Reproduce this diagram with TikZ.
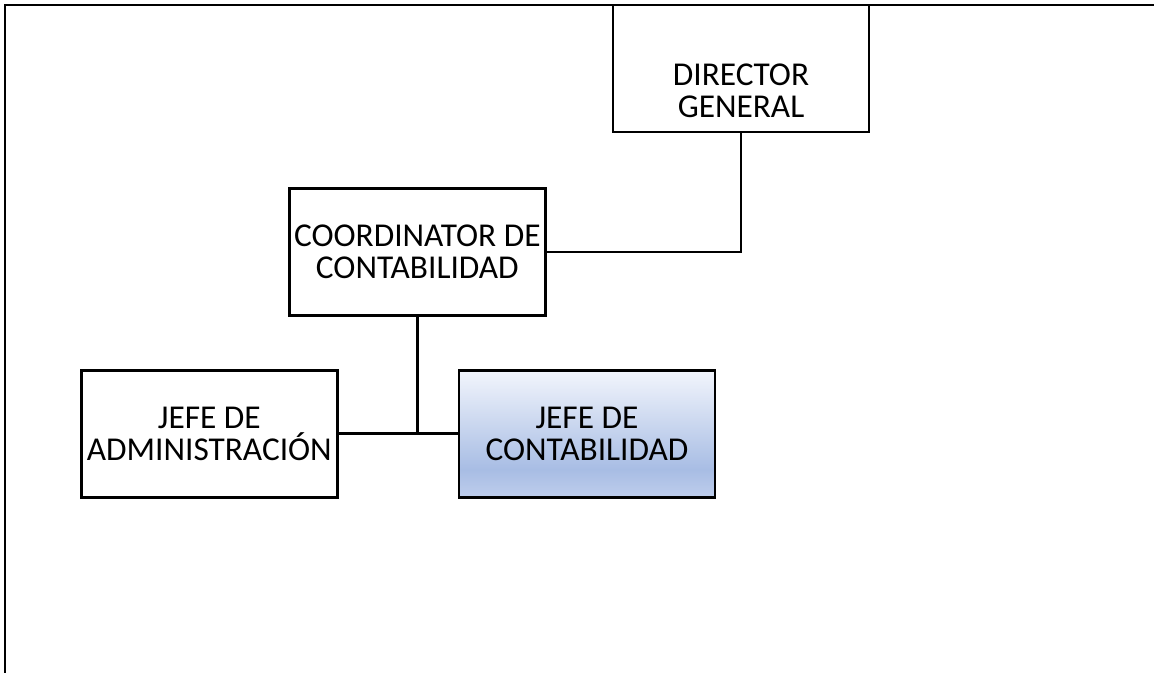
\documentclass[tikz,border=0pt]{standalone}
\usepackage{fontspec}
\setmainfont{Carlito}
\usepackage{xcolor}
\usetikzlibrary{positioning}
\definecolor{jcTop}{RGB}{242,245,252}
\definecolor{jcMid}{RGB}{168,189,228}
\definecolor{jcBot}{RGB}{190,205,236}
\pgfdeclareverticalshading{jcshade}{100bp}{%
  color(0bp)=(jcBot); color(25bp)=(jcBot); color(36bp)=(jcMid);
  color(75bp)=(jcTop); color(100bp)=(jcTop)}

\begin{document}
\begin{tikzpicture}[
  x=0.75pt, y=-0.75pt,
  txt/.style   = {align=center, inner sep=0pt,
                  font=\fontsize{25}{24}\selectfont},
  box/.style   = {txt, draw, line width=2pt, fill=white,
                  minimum width=192pt, minimum height=95.25pt},
  boxsel/.style = {box, shading=jcshade},
  lnk/.style   = {line width=2pt},
  frm/.style   = {line width=2pt}
]
\useasboundingbox (0,0) rectangle (1154,673);

% Frame
\coordinate (fTL) at (5,5);
\coordinate (fTR) at (1154,5);
\coordinate (fBL) at (5,673);
\draw[frm] (fBL) -- (fTL) -- (fTR);

% Nodes
\node[box] (dg) at (741,68.5) {};
\node[txt] (dgtxt) at ([yshift=-17pt]dg.center) {DIRECTOR\\GENERAL};
\node[box, below left=40.5pt and 48.75pt of dg] (coord) {COORDINATOR DE\\CONTABILIDAD};
\node[box, below=39pt of coord, xshift=-156pt] (admin) {JEFE DE\\ADMINISTRACI\'ON};
\node[boxsel, right=89.25pt of admin] (jc) {JEFE DE\\CONTABILIDAD};

% Connectors
\draw[lnk] (dg.south) |- (coord.east);
\draw[lnk] (admin.east) -- (jc.west);
\draw[lnk] (coord.south) -- (coord.south |- admin.east);
\end{tikzpicture}
\end{document}
